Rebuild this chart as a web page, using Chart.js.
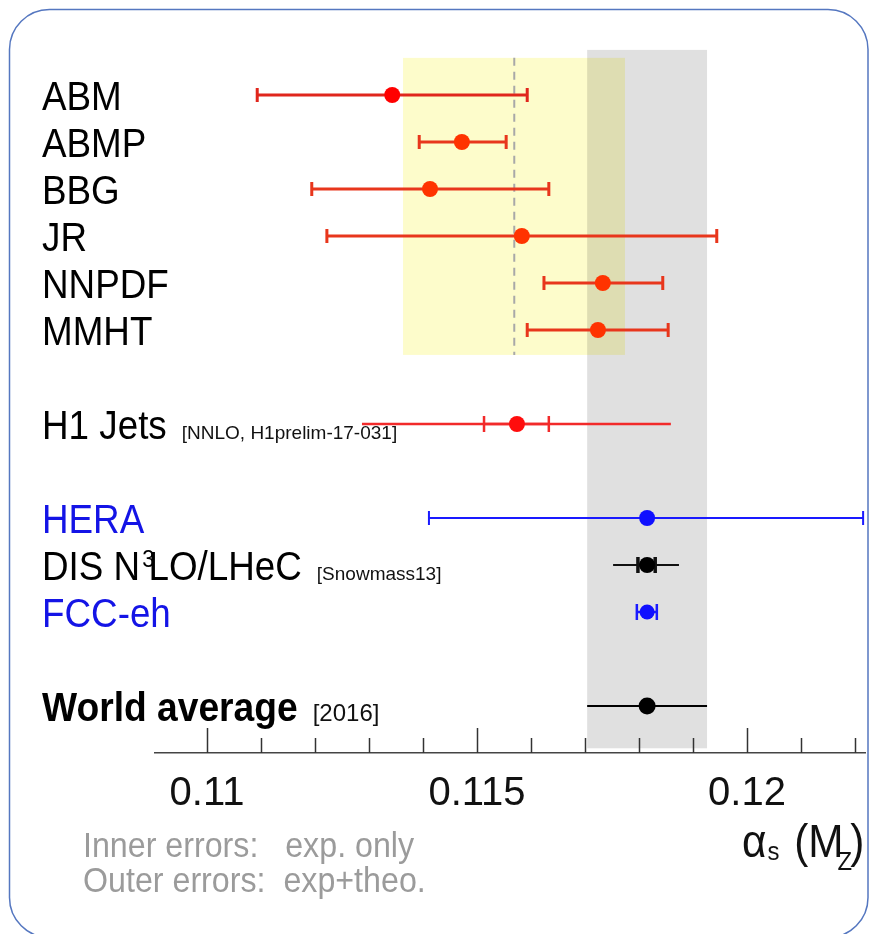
<!DOCTYPE html>
<html>
<head>
<meta charset="utf-8">
<title>alpha_s(M_Z) summary</title>
<script src="https://cdn.jsdelivr.net/npm/chart.js@4.4.1/dist/chart.umd.min.js"></script>
<style>
  html, body { margin: 0; padding: 0; background: #fff; }
  #wrap { width: 870px; height: 934px; }
</style>
</head>
<body>
<div id="wrap"><canvas id="myChart" width="870" height="934"></canvas></div>
<script>
// values
const labels   = ['ABM', 'ABMP', 'BBG', 'JR', 'NNPDF', 'MMHT', 'H1 Jets', 'HERA', 'DIS N³LO/LHeC', 'FCC-eh', 'World average'];
const refs     = ['', '', '', '', '', '', '[NNLO, H1prelim-17-031]', '', '[Snowmass13]', '', '[2016]'];
const rowIndex = [0, 1, 2, 3, 4, 5, 7, 9, 10, 11, 13];
const alphaS   = [0.11343, 0.11472, 0.11413, 0.11583, 0.11733, 0.11724, 0.11574, 0.11815, 0.11815, 0.11815, 0.11815];
const outerLo  = [0.11093, 0.11393, 0.11194, 0.11222, 0.11624, 0.11593, 0.11287, 0.11411, 0.11752, 0.11796, 0.11704];
const outerHi  = [0.11593, 0.11554, 0.11633, 0.11944, 0.11844, 0.11854, 0.11859, 0.12215, 0.11874, 0.11833, 0.11926];
const innerLo  = [null, null, null, null, null, null, 0.11513, null, 0.11798, null, null];
const innerHi  = [null, null, null, null, null, null, 0.11633, null, 0.11830, null, null];

// PDF fits average band (yellow) and its central value (dashed)
const pdfBand  = [0.11363, 0.11774];
const pdfMean  = 0.11569;

const tickValues = [0.110, 0.111, 0.112, 0.113, 0.114, 0.115, 0.116, 0.117, 0.118, 0.119, 0.120, 0.121, 0.122];
const majorTicks = [0.110, 0.115, 0.120];
const tickLabels = ['0.11', '0.115', '0.12'];

const notes = ['Inner errors:   exp. only', 'Outer errors:  exp+theo.'];

const FONT = '"Liberation Sans", Arial, Helvetica, sans-serif';

// styles
const pdf = {dot: '#ff3300', bar: '#e8361c', text: '#000', lw: 3, cap: 7, outerCaps: true, r: 8};
const styles = {
  'ABM':   Object.assign({}, pdf, {dot: '#ff0000', bar: '#e0261c'}),
  'ABMP':  pdf, 'BBG': pdf, 'JR': pdf, 'NNPDF': pdf, 'MMHT': pdf,
  'H1 Jets': {dot: '#ff0d0d', bar: '#f22a2a', text: '#000', lw: 2.5, cap: 8, outerCaps: false, r: 8},
  'HERA':    {dot: '#1010ff', bar: '#1a1aff', text: '#1414e6', lw: 2, cap: 7, outerCaps: true, r: 8},
  'DIS N³LO/LHeC': {dot: '#000', bar: '#111', text: '#000', lw: 2, cap: 8, innerLw: 3.5, outerCaps: false, r: 8},
  'FCC-eh':  {dot: '#1010ff', bar: '#1a1aff', text: '#1414e6', lw: 2.5, cap: 8, outerCaps: true, r: 7.5},
  'World average': {dot: '#000', bar: '#000', text: '#000', lw: 2, cap: 0, outerCaps: false, r: 8.5, bold: true}
};
const st = (i) => styles[labels[i]];

function drawText(ctx, s, x, y, font, color, sx) {
  ctx.save();
  ctx.font = font;
  ctx.fillStyle = color;
  ctx.textBaseline = 'alphabetic';
  ctx.textAlign = 'left';
  ctx.translate(x, y);
  ctx.scale(sx, 1);
  ctx.fillText(s, 0, 0);
  const w = ctx.measureText(s).width * sx;
  ctx.restore();
  return w;
}

function hbar(ctx, x0, x1, y, cap, caps) {
  ctx.beginPath();
  ctx.moveTo(x0, y); ctx.lineTo(x1, y);
  if (caps) {
    ctx.moveTo(x0, y - cap); ctx.lineTo(x0, y + cap);
    ctx.moveTo(x1, y - cap); ctx.lineTo(x1, y + cap);
  }
  ctx.stroke();
}

const backdrop = {
  id: 'backdrop',
  beforeDatasetsDraw(chart) {
    const ctx = chart.ctx, xs = chart.scales.x, ys = chart.scales.y;
    const wa = labels.indexOf('World average');
    ctx.save();
    // world average band
    let x0 = xs.getPixelForValue(outerLo[wa]), x1 = xs.getPixelForValue(outerHi[wa]);
    let y0 = ys.getPixelForValue(-0.96), y1 = ys.getPixelForValue(13.9);
    ctx.fillStyle = '#e0e0e0';
    ctx.fillRect(x0, y0, x1 - x0, y1 - y0);
    // PDF band
    x0 = xs.getPixelForValue(pdfBand[0]); x1 = xs.getPixelForValue(pdfBand[1]);
    y0 = ys.getPixelForValue(-0.79); y1 = ys.getPixelForValue(5.53);
    ctx.globalCompositeOperation = 'multiply';
    ctx.fillStyle = '#fdfccb';
    ctx.fillRect(x0, y0, x1 - x0, y1 - y0);
    ctx.globalCompositeOperation = 'source-over';
    const xm = xs.getPixelForValue(pdfMean);
    ctx.strokeStyle = '#a8a8a8';
    ctx.lineWidth = 2;
    ctx.setLineDash([8, 6]);
    ctx.beginPath(); ctx.moveTo(xm, y0); ctx.lineTo(xm, y1); ctx.stroke();
    ctx.setLineDash([]);

    // error bars
    labels.forEach((lab, i) => {
      const s = st(i);
      const y = ys.getPixelForValue(rowIndex[i]);
      ctx.strokeStyle = s.bar;
      ctx.lineWidth = s.lw;
      hbar(ctx, xs.getPixelForValue(outerLo[i]), xs.getPixelForValue(outerHi[i]), y, s.cap, s.outerCaps);
      if (innerLo[i] != null) {
        ctx.lineWidth = s.innerLw || s.lw;
        hbar(ctx, xs.getPixelForValue(innerLo[i]), xs.getPixelForValue(innerHi[i]), y, s.cap, true);
      }
    });
    ctx.restore();
  },
  afterDraw(chart) {
    const ctx = chart.ctx, xs = chart.scales.x, ys = chart.scales.y;
    ctx.save();
    // tick marks pointing up into the plot
    const ay = xs.top;
    ctx.strokeStyle = '#333';
    ctx.lineWidth = 1.5;
    xs.ticks.forEach(t => {
      const major = majorTicks.some(m => Math.abs(m - t.value) < 1e-9);
      const px = Math.round(xs.getPixelForValue(t.value)) + 0.5;
      ctx.beginPath(); ctx.moveTo(px, ay); ctx.lineTo(px, ay - (major ? 25 : 15)); ctx.stroke();
    });

    // row labels
    labels.forEach((lab, i) => {
      const s = st(i);
      const y = ys.getPixelForValue(rowIndex[i]) + 15;
      const font = (s.bold ? 'bold ' : '') + '40px ' + FONT;
      let x = 42;
      if (lab.includes('³')) {
        const parts = lab.split('³');
        x += drawText(ctx, parts[0], x, y, font, s.text, 0.92);
        x += drawText(ctx, '3', x + 2, y - 13, '24px ' + FONT, s.text, 0.92) - 4;
        x += drawText(ctx, parts[1], x, y, font, s.text, 0.92);
      } else {
        x += drawText(ctx, lab, x, y, font, s.text, s.bold ? 0.93 : 0.92);
      }
      if (refs[i]) {
        drawText(ctx, refs[i], x + 15, y, (s.bold ? '24px ' : '19px ') + FONT, '#111', 1);
      }
    });

    // axis title  alpha_s (M_Z)
    let x = 742;
    const by = 857;
    x += drawText(ctx, 'α', x, by, '46px ' + FONT, '#111', 0.92) + 1;
    x += drawText(ctx, 's', x, by + 3, '26px ' + FONT, '#111', 0.92) + 3;
    x += drawText(ctx, ' (M', x, by, '46px ' + FONT, '#111', 0.92) - 6;
    x += drawText(ctx, 'Z', x, by + 13, '26px ' + FONT, '#111', 0.92) - 2;
    drawText(ctx, ')', x, by, '46px ' + FONT, '#111', 0.92);

    // notes
    notes.forEach((n, k) => drawText(ctx, n, 83, 857 + k * 35, '35px ' + FONT, '#9b9b9b', 0.92));

    // rounded frame
    ctx.strokeStyle = '#5577c0';
    ctx.lineWidth = 1.5;
    ctx.beginPath();
    ctx.roundRect(9.5, 9.5, 858.5, 928, 40);
    ctx.stroke();
    ctx.restore();
  }
};

const ctx = document.getElementById('myChart');
document.myChart = new Chart(ctx, {
  type: 'scatter',
  data: {
    datasets: [{
      data: labels.map((l, i) => ({x: alphaS[i], y: rowIndex[i]})),
      pointRadius: labels.map((l, i) => st(i).r),
      pointHoverRadius: labels.map((l, i) => st(i).r),
      pointBackgroundColor: labels.map((l, i) => st(i).dot),
      pointBorderWidth: 0,
      showLine: false
    }]
  },
  options: {
    responsive: false,
    animation: false,
    events: [],
    layout: { autoPadding: false, padding: { left: 155, right: 5, top: 48, bottom: 0 } },
    scales: {
      x: {
        type: 'linear',
        min: 0.109037,
        max: 0.122185,
        afterBuildTicks: (axis) => { axis.ticks = tickValues.map(v => ({value: v})); },
        afterFit: (axis) => { axis.height = 181; axis.paddingLeft = 0; axis.paddingRight = 0; },
        grid: { display: false, drawTicks: false },
        border: { display: true, color: '#444', width: 1.5 },
        ticks: {
          autoSkip: false,
          maxRotation: 0,
          padding: 5,
          color: '#111',
          font: { family: FONT, size: 40, lineHeight: 1.8 },
          callback: (v) => {
            const k = majorTicks.findIndex(m => Math.abs(m - v) < 1e-9);
            return k >= 0 ? tickLabels[k] : '';
          }
        }
      },
      y: { type: 'linear', min: -1, max: 14, reverse: true, display: false }
    },
    plugins: { legend: { display: false }, tooltip: { enabled: false } }
  },
  plugins: [backdrop]
});
</script>
</body>
</html>
